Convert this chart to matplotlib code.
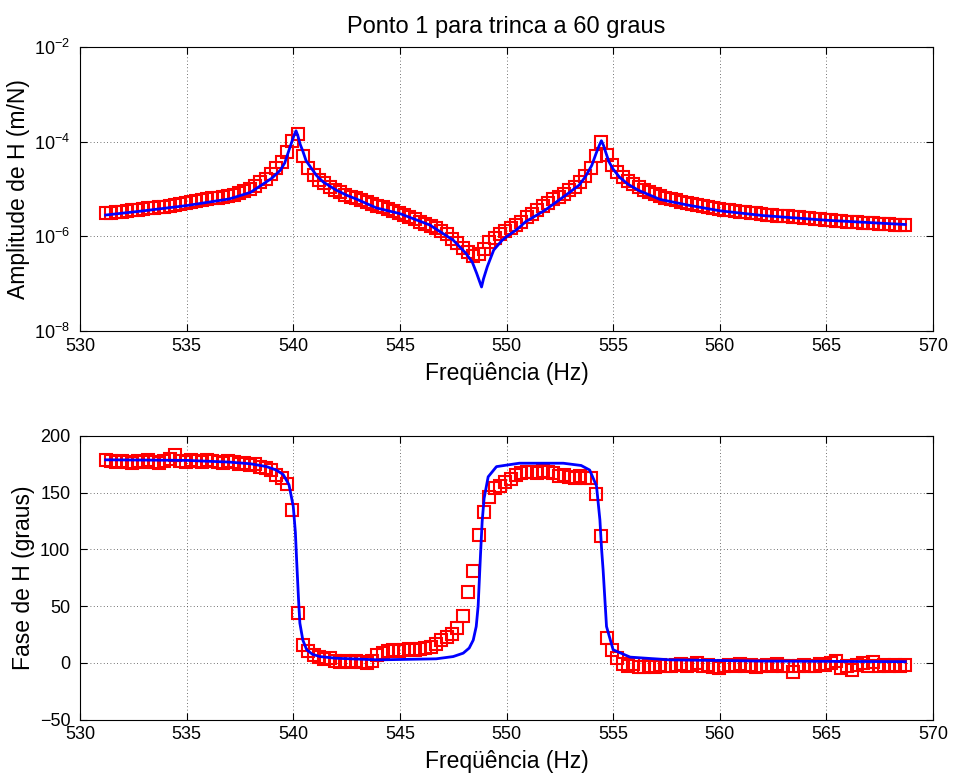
import numpy as np
import matplotlib
matplotlib.use("Agg")
import matplotlib.pyplot as plt
from matplotlib.ticker import FixedLocator, FuncFormatter

plt.rcParams['font.family'] = ['Liberation Sans', 'DejaVu Sans']
plt.rcParams['mathtext.fontset'] = 'custom'
plt.rcParams['mathtext.rm'] = 'Liberation Sans'
plt.rcParams['mathtext.default'] = 'regular'

# measured points (red squares), 0.25 Hz spacing
freq_exp = [
    531.2, 531.45, 531.7, 531.95, 532.2, 532.45, 532.7, 532.95, 533.2, 533.45,
    533.7, 533.95, 534.2, 534.45, 534.7, 534.95, 535.2, 535.45, 535.7, 535.95,
    536.2, 536.45, 536.7, 536.95, 537.2, 537.45, 537.7, 537.95, 538.2, 538.45,
    538.7, 538.95, 539.2, 539.45, 539.7, 539.95, 540.2, 540.45, 540.7, 540.95,
    541.2, 541.45, 541.7, 541.95, 542.2, 542.45, 542.7, 542.95, 543.2, 543.45,
    543.7, 543.95, 544.2, 544.45, 544.7, 544.95, 545.2, 545.45, 545.7, 545.95,
    546.2, 546.45, 546.7, 546.95, 547.2, 547.45, 547.7, 547.95, 548.2, 548.45,
    548.7, 548.95, 549.2, 549.45, 549.7, 549.95, 550.2, 550.45, 550.7, 550.95,
    551.2, 551.45, 551.7, 551.95, 552.2, 552.45, 552.7, 552.95, 553.2, 553.45,
    553.7, 553.95, 554.2, 554.45, 554.7, 554.95, 555.2, 555.45, 555.7, 555.95,
    556.2, 556.45, 556.7, 556.95, 557.2, 557.45, 557.7, 557.95, 558.2, 558.45,
    558.7, 558.95, 559.2, 559.45, 559.7, 559.95, 560.2, 560.45, 560.7, 560.95,
    561.2, 561.45, 561.7, 561.95, 562.2, 562.45, 562.7, 562.95, 563.2, 563.45,
    563.7, 563.95, 564.2, 564.45, 564.7, 564.95, 565.2, 565.45, 565.7, 565.95,
    566.2, 566.45, 566.7, 566.95, 567.2, 567.45, 567.7, 567.95, 568.2, 568.45,
    568.7]

# log10 of |H| in m/N
amp_exp_log = [
    -5.51, -5.50, -5.49, -5.48, -5.46, -5.45, -5.44, -5.43, -5.41, -5.40,
    -5.38, -5.37, -5.35, -5.34, -5.32, -5.30, -5.28, -5.26, -5.24, -5.22,
    -5.20, -5.18, -5.16, -5.14, -5.12, -5.08, -5.04, -4.99, -4.93, -4.86,
    -4.78, -4.68, -4.56, -4.42, -4.22, -3.98, -3.84, -4.30, -4.55, -4.70,
    -4.80, -4.88, -4.95, -5.02, -5.07, -5.12, -5.16, -5.20, -5.24, -5.28,
    -5.31, -5.35, -5.39, -5.43, -5.47, -5.51, -5.55, -5.60, -5.64, -5.69,
    -5.73, -5.78, -5.83, -5.89, -5.96, -6.05, -6.14, -6.24, -6.33, -6.42,
    -6.38, -6.26, -6.13, -6.04, -5.96, -5.89, -5.83, -5.76, -5.69, -5.60,
    -5.52, -5.44, -5.36, -5.29, -5.22, -5.16, -5.10, -5.03, -4.95, -4.86,
    -4.73, -4.55, -4.30, -4.00, -4.28, -4.50, -4.65, -4.75, -4.83, -4.90,
    -4.96, -5.02, -5.07, -5.11, -5.15, -5.18, -5.21, -5.24, -5.27, -5.30,
    -5.32, -5.34, -5.36, -5.38, -5.40, -5.42, -5.44, -5.45, -5.46, -5.48,
    -5.49, -5.50, -5.51, -5.53, -5.54, -5.55, -5.56, -5.57, -5.58, -5.59,
    -5.60, -5.61, -5.62, -5.63, -5.64, -5.65, -5.66, -5.67, -5.68, -5.69,
    -5.69, -5.70, -5.71, -5.72, -5.72, -5.73, -5.74, -5.74, -5.75, -5.75,
    -5.76]

phase_exp = [
    179, 178, 177, 178, 177, 176, 178, 177, 179, 177,
    176, 178, 180, 183, 178, 177, 179, 178, 177, 179,
    178, 177, 176, 178, 177, 175, 176, 174, 175, 173,
    172, 170, 166, 163, 158, 135, 44, 16, 10, 7,
    5, 3, 4, 2, 1, 2, 1, 2, 1, 0,
    2, 7, 9, 10, 11, 10, 11, 12, 11, 12,
    13, 14, 17, 20, 23, 25, 31, 41, 62, 81,
    113, 133, 146, 154, 156, 159, 162, 166, 167, 168,
    168, 167, 169, 168, 167, 165, 166, 164, 163, 165,
    163, 163, 149, 112, 22, 11, 4, -1, -3, -1,
    -4, -4, -3, -4, -2, -3, -3, -2, -1, -3,
    -2, 0, -3, -2, -4, -5, -3, -2, -3, -1,
    -3, -2, -4, -3, -2, -3, -1, -3, -3, -8,
    -3, -2, -3, -3, -1, -2, 0, 2, -5, -3,
    -6, -2, 0, -3, 1, -3, -2, -3, -2, -3,
    -2]

# fitted curve (blue line), amplitude
freq_fit_amp = [531.2, 533.0, 535.0, 537.0, 538.0, 538.5, 539.0, 539.4, 539.6,
                539.8, 539.95, 540.05, 540.13, 540.22, 540.32, 540.45, 540.6,
                540.8, 541.1, 541.4, 542.0, 542.5, 543.0, 543.9, 545.0, 546.4,
                547.5, 548.1, 548.4, 548.6, 548.75, 548.83, 548.92, 549.1,
                549.4, 549.8, 550.0, 550.5, 550.9, 551.8, 552.9, 553.4, 553.7,
                554.0, 554.2, 554.35, 554.45, 554.55, 554.65, 554.8, 555.0,
                555.3, 555.7, 556.2, 557.2, 558.5, 560.0, 562.0, 565.0, 568.7]
amp_fit_log = [-5.55, -5.46, -5.35, -5.21, -5.07, -4.92, -4.77, -4.60, -4.45,
               -4.18, -3.98, -3.85, -3.77, -3.88, -4.05, -4.20, -4.40,
               -4.53, -4.72, -4.85, -5.02, -5.13, -5.22, -5.40, -5.52, -5.76,
               -6.08, -6.36, -6.55, -6.78, -6.97, -7.07, -6.90, -6.64,
               -6.29, -6.08, -6.01, -5.85, -5.69, -5.45, -5.09, -4.92, -4.74,
               -4.50, -4.25, -4.08, -3.98, -4.08, -4.22, -4.42, -4.58,
               -4.75, -4.90, -5.03, -5.22, -5.34, -5.46, -5.56, -5.66, -5.75]

# fitted curve (blue line), phase
freq_fit_ph = [531.2, 535.0, 537.0, 538.0, 538.75, 539.2, 539.53, 539.8, 540.0,
               540.1, 540.16, 540.25, 540.31, 540.45, 540.63, 540.9, 541.25,
               542.0, 544.0, 546.7, 547.5, 547.97, 548.25, 548.44, 548.58,
               548.67, 548.78, 548.86, 548.95, 549.14, 549.53, 550.6, 552.66,
               553.5, 553.9, 554.22, 554.38, 554.46, 554.53, 554.69, 555.0,
               555.8, 557.66, 562.0, 568.7]
phase_fit = [179, 178.5, 177, 175.5, 173, 170, 166, 157, 138,
             115, 90, 55, 35, 20, 11.5, 7.5, 5.5,
             4, 2.6, 3.5, 5.5, 8.5, 13, 20, 32,
             50, 95, 125, 145, 164, 173, 176, 176,
             174, 170, 156, 126, 100, 82, 32, 11.5,
             5, 2.6, 1.5, 1.0]

W, H = 957, 781
fig = plt.figure(figsize=(W / 100, H / 100), dpi=100)
ax1 = fig.add_axes([80 / W, 1 - 331 / H, 853 / W, 284 / H])
ax2 = fig.add_axes([80 / W, 1 - 719.5 / H, 853 / W, 283.5 / H])

marker_kw = dict(linestyle='none', marker='s', markersize=8.5, markerfacecolor='none',
                 markeredgecolor='red', markeredgewidth=1.5)
line_kw = dict(color='blue', linewidth=2)

# amplitude
ax1.semilogy(freq_exp, np.power(10.0, amp_exp_log), **marker_kw)
ax1.semilogy(freq_fit_amp, np.power(10.0, amp_fit_log), **line_kw)
ax1.set_ylim(1e-8, 1e-2)
ax1.yaxis.set_major_locator(FixedLocator([1e-8, 1e-6, 1e-4, 1e-2]))
ax1.yaxis.set_minor_locator(FixedLocator([]))
ax1.yaxis.set_major_formatter(FuncFormatter(lambda v, p: r'$10^{%d}$' % round(np.log10(v))))
ax1.set_ylabel('Amplitude de H (m/N)', fontsize=16.5, labelpad=3)
ax1.set_title('Ponto 1 para trinca a 60 graus', fontsize=17, pad=10)

# phase
ax2.plot(freq_exp, phase_exp, **marker_kw)
ax2.plot(freq_fit_ph, phase_fit, **line_kw)
ax2.set_ylim(-50, 200)
ax2.set_yticks([-50, 0, 50, 100, 150, 200])
ax2.set_ylabel('Fase de H (graus)', fontsize=16.5, labelpad=3)

for ax in (ax1, ax2):
    ax.set_xlim(530, 570)
    ax.set_xticks(np.arange(530, 571, 5))
    ax.set_xlabel('Freqüência (Hz)', fontsize=16.5, labelpad=5)
    ax.grid(True, which='major', linestyle=(0, (1, 3)), color='#444444', linewidth=0.6)
    ax.tick_params(direction='in', top=True, right=True, length=5, labelsize=13)
    ax.tick_params(axis='x', pad=5)
    ax.tick_params(axis='y', pad=7)
    for s in ax.spines.values():
        s.set_linewidth(0.8)

fig.savefig('out.png', dpi=100)
